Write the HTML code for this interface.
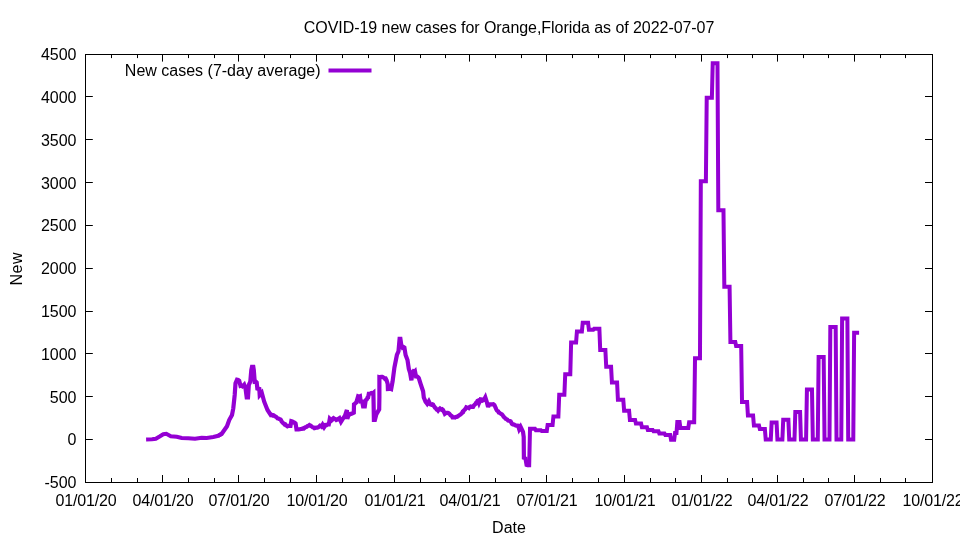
<!DOCTYPE html>
<html lang="en"><head><meta charset="utf-8"><title>COVID-19 new cases for Orange,Florida</title>
<style>html,body{margin:0;padding:0;background:#fff;overflow:hidden}svg{display:block}</style></head>
<body>
<svg width="960" height="540" viewBox="0 0 960 540">
<rect width="960" height="540" fill="#fff"/>
<path d="M85.5,54.5h7.3M932.5,54.5h-7.5M85.5,96.5h7.3M932.5,96.5h-7.5M85.5,139.5h7.3M932.5,139.5h-7.5M85.5,182.5h7.3M932.5,182.5h-7.5M85.5,225.5h7.3M932.5,225.5h-7.5M85.5,268.5h7.3M932.5,268.5h-7.5M85.5,311.5h7.3M932.5,311.5h-7.5M85.5,353.5h7.3M932.5,353.5h-7.5M85.5,396.5h7.3M932.5,396.5h-7.5M85.5,439.5h7.3M932.5,439.5h-7.5M85.5,482.5h7.3M932.5,482.5h-7.5M85.5,482.5v-7.5M85.5,54.5v7.1M111.5,482.5v-4.5M111.5,54.5v3.6M137.5,482.5v-4.5M137.5,54.5v3.6M162.5,482.5v-7.5M162.5,54.5v7.1M188.5,482.5v-4.5M188.5,54.5v3.6M214.5,482.5v-4.5M214.5,54.5v3.6M238.5,482.5v-7.5M238.5,54.5v7.1M264.5,482.5v-4.5M264.5,54.5v3.6M290.5,482.5v-4.5M290.5,54.5v3.6M316.5,482.5v-7.5M316.5,54.5v7.1M342.5,482.5v-4.5M342.5,54.5v3.6M368.5,482.5v-4.5M368.5,54.5v3.6M394.5,482.5v-7.5M394.5,54.5v7.1M420.5,482.5v-4.5M420.5,54.5v3.6M445.5,482.5v-4.5M445.5,54.5v3.6M469.5,482.5v-7.5M469.5,54.5v7.1M495.5,482.5v-4.5M495.5,54.5v3.6M521.5,482.5v-4.5M521.5,54.5v3.6M546.5,482.5v-7.5M546.5,54.5v7.1M572.5,482.5v-4.5M572.5,54.5v3.6M598.5,482.5v-4.5M598.5,54.5v3.6M624.5,482.5v-7.5M624.5,54.5v7.1M650.5,482.5v-4.5M650.5,54.5v3.6M675.5,482.5v-4.5M675.5,54.5v3.6M701.5,482.5v-7.5M701.5,54.5v7.1M727.5,482.5v-4.5M727.5,54.5v3.6M752.5,482.5v-4.5M752.5,54.5v3.6M777.5,482.5v-7.5M777.5,54.5v7.1M803.5,482.5v-4.5M803.5,54.5v3.6M828.5,482.5v-4.5M828.5,54.5v3.6M854.5,482.5v-7.5M854.5,54.5v7.1M880.5,482.5v-4.5M880.5,54.5v3.6M905.5,482.5v-4.5M905.5,54.5v3.6M932.5,482.5v-7.5M932.5,54.5v7.1" stroke="#000" stroke-width="1" fill="none"/>
<rect x="85.5" y="54.5" width="847.0" height="428.0" fill="none" stroke="#000" stroke-width="1"/>
<g font-family="'Liberation Sans', Arial, sans-serif" font-size="16" fill="#000">
<text x="76.5" y="60.1" text-anchor="end">4500</text>
<text x="76.5" y="102.9" text-anchor="end">4000</text>
<text x="76.5" y="145.7" text-anchor="end">3500</text>
<text x="76.5" y="188.5" text-anchor="end">3000</text>
<text x="76.5" y="231.3" text-anchor="end">2500</text>
<text x="76.5" y="274.1" text-anchor="end">2000</text>
<text x="76.5" y="316.9" text-anchor="end">1500</text>
<text x="76.5" y="359.7" text-anchor="end">1000</text>
<text x="76.5" y="402.5" text-anchor="end">500</text>
<text x="76.5" y="445.3" text-anchor="end">0</text>
<text x="76.5" y="488.1" text-anchor="end">-500</text>
<text x="86.1" y="506" text-anchor="middle" textLength="61" lengthAdjust="spacing">01/01/20</text>
<text x="163.1" y="506" text-anchor="middle" textLength="61" lengthAdjust="spacing">04/01/20</text>
<text x="239.1" y="506" text-anchor="middle" textLength="61" lengthAdjust="spacing">07/01/20</text>
<text x="317.1" y="506" text-anchor="middle" textLength="61" lengthAdjust="spacing">10/01/20</text>
<text x="395.1" y="506" text-anchor="middle" textLength="61" lengthAdjust="spacing">01/01/21</text>
<text x="470.1" y="506" text-anchor="middle" textLength="61" lengthAdjust="spacing">04/01/21</text>
<text x="547.1" y="506" text-anchor="middle" textLength="61" lengthAdjust="spacing">07/01/21</text>
<text x="625.1" y="506" text-anchor="middle" textLength="61" lengthAdjust="spacing">10/01/21</text>
<text x="702.1" y="506" text-anchor="middle" textLength="61" lengthAdjust="spacing">01/01/22</text>
<text x="778.1" y="506" text-anchor="middle" textLength="61" lengthAdjust="spacing">04/01/22</text>
<text x="855.1" y="506" text-anchor="middle" textLength="61" lengthAdjust="spacing">07/01/22</text>
<text x="933.1" y="506" text-anchor="middle" textLength="61" lengthAdjust="spacing">10/01/22</text>
<text x="509.1" y="33" text-anchor="middle" textLength="410.5" lengthAdjust="spacing">COVID-19 new cases for Orange,Florida as of 2022-07-07</text>
<text x="509" y="533" text-anchor="middle">Date</text>
<text transform="translate(21.5,269) rotate(-90)" text-anchor="middle" textLength="33" lengthAdjust="spacing">New</text>
<text x="320.5" y="75.8" text-anchor="end">New cases (7-day average)</text>
</g>
<path d="M328.5,70.5H371.5" stroke="#9400d3" stroke-width="4" fill="none"/>
<path d="M146.1,439.4 L152.0,439.2 L155.8,438.8 L160.0,436.3 L163.3,434.2 L166.3,433.8 L170.8,436.3 L176.7,436.7 L181.7,438.0 L188.3,438.3 L195.0,438.8 L201.7,437.8 L206.7,438.0 L213.3,437.0 L218.3,435.8 L221.7,433.8" stroke="#9400d3" stroke-width="4.0" fill="none" stroke-linejoin="miter" stroke-miterlimit="2.8" stroke-linecap="butt"/>
<path d="M218.3,435.8 L221.7,433.8 L224.2,430.3 L227.0,426.3 L229.2,420.0 L232.0,415.0 L233.3,408.3 L234.7,395.0 L235.5,383.3 L237.0,379.7 L238.1,380.0 L239.2,380.8 L240.5,385.8 L241.5,385.5 L242.5,386.3 L243.3,385.7 L244.2,384.7 L245.5,388.3 L246.7,397.5 L248.0,397.5 L248.8,385.0 L250.3,381.7 L251.3,370.0 L252.0,366.8 L253.3,366.8 L253.8,370.0 L254.7,381.7 L255.7,381.5 L256.7,382.5 L257.5,390.0 L259.2,387.5 L259.7,395.0 L260.4,394.2 L261.0,393.2 L261.7,392.5 L264.2,401.7 L267.5,410.0 L270.8,415.0 L271.6,414.8 L272.5,415.4 L273.4,415.2 L274.2,415.8 L275.0,416.4 L275.9,416.7 L276.7,417.4 L277.5,418.3 L278.3,418.5 L279.2,419.1 L280.0,419.2 L280.6,419.6 L281.1,420.4 L281.6,421.3 L282.2,422.2 L282.8,422.7 L283.3,423.3 L284.0,423.7 L284.7,424.6 L285.4,424.5 L286.1,425.5 L286.8,425.7 L287.5,426.3 L288.5,425.9 L289.5,425.7 L290.5,425.8 L291.3,421.2 L292.3,421.5 L293.3,422.0 L294.1,422.7 L294.8,422.8 L295.6,423.5 L296.5,429.4 L297.6,429.4 L298.8,429.4 L299.8,429.3 L300.8,429.0 L301.8,428.9 L302.8,428.4 L303.8,428.5 L304.6,427.8 L305.4,427.3 L306.2,427.1 L307.0,426.5 L307.8,425.9 L308.6,425.6 L309.4,425.0 L310.2,425.5 L311.1,425.9 L311.9,426.7 L312.7,427.2 L313.6,427.4 L314.4,428.1 L315.3,427.9 L316.2,427.7 L317.2,427.7 L318.1,427.3 L319.1,426.6 L320.0,425.6 L320.8,425.9 L321.5,426.5 L322.6,424.6 L324.1,427.2 L325.6,425.0 L326.7,425.1 L327.7,424.4 L328.8,424.4 L329.8,418.8 L330.6,419.6 L331.3,420.6 L332.0,420.0 L332.8,418.7 L333.5,418.1 L334.4,418.7 L335.4,419.0 L336.3,420.0 L337.1,419.6 L337.9,419.2 L338.6,418.6 L339.4,418.1 L341.0,421.8 L342.5,419.4 L345.0,415.6 L346.9,410.0 L347.3,418.8 L348.8,414.4 L349.6,414.5 L350.5,413.8 L351.3,413.8 L352.1,413.6 L353.0,413.2 L353.8,412.8 L354.0,404.4 L354.8,403.9 L355.5,403.1 L356.3,402.5 L358.1,396.3 L359.1,396.7 L360.0,396.3 L360.6,401.3 L361.2,401.2 L361.9,400.0 L363.1,406.3 L364.8,406.3 L365.6,400.6 L366.2,399.8 L366.9,399.2 L367.5,397.7 L368.1,397.5 L368.8,393.8 L369.6,393.8 L370.5,393.5 L371.3,393.1 L372.4,393.6 L373.4,392.8 L373.9,419.8 L374.9,419.8 L376.3,414.4 L379.2,409.4 L379.4,397.0 L379.4,377.2 L380.4,377.5 L381.3,376.8 L382.3,376.8 L383.2,377.3 L384.2,377.8 L385.0,378.9 L385.8,378.7 L386.6,380.2 L387.7,384.0 L387.9,389.0 L389.0,388.9 L390.1,388.5 L391.2,389.0 L392.6,381.5 L394.4,367.5 L396.9,355.0 L398.5,351.3 L399.6,338.9 L400.4,338.9 L401.3,345.0 L402.5,347.5 L403.4,346.9 L404.4,347.5 L405.6,355.0 L407.5,360.0 L408.8,368.8 L410.0,372.5 L411.4,380.3 L412.5,372.5 L413.3,371.4 L414.2,372.1 L415.0,371.3 L416.0,376.3 L416.9,376.3 L417.9,377.1 L418.8,378.1 L420.6,383.8 L423.1,391.3 L423.8,397.5 L425.6,401.9 L426.4,402.7 L427.2,403.8 L428.8,401.3 L430.3,404.4 L431.4,404.8 L432.5,404.4 L433.1,404.7 L433.7,405.8 L434.4,406.7 L435.0,407.7 L435.6,408.1 L436.2,409.0 L436.9,409.7 L437.5,409.8 L438.1,410.6 L438.7,409.8 L439.4,409.1 L440.0,408.5 L440.8,409.2 L441.6,409.7 L442.3,409.3 L443.1,410.0 L444.8,413.8 L445.9,413.0 L446.9,412.8 L447.7,412.9 L448.6,413.2 L449.4,413.8 L450.0,414.5 L450.6,415.3 L451.3,415.7 L451.9,416.2 L452.5,417.3 L453.8,417.3 L455.0,417.5 L455.8,417.0 L456.6,416.8 L457.3,416.7 L458.1,416.0 L458.9,415.6 L459.7,414.9 L460.5,414.5 L461.3,413.8 L461.9,413.2 L462.6,411.8 L463.2,411.8 L463.8,410.6 L464.4,410.0 L465.1,409.3 L465.7,408.4 L466.3,407.3 L467.1,407.5 L468.0,407.7 L468.8,408.1 L469.7,406.9 L470.6,406.5 L471.9,406.8 L473.1,406.9 L473.7,405.7 L474.4,404.9 L475.0,404.3 L475.6,403.8 L476.2,402.6 L476.9,402.0 L477.5,400.9 L478.1,400.6 L479.0,403.1 L480.6,399.3 L481.6,399.4 L482.5,400.6 L483.8,400.0 L485.3,397.3 L486.6,401.3 L488.1,406.9 L488.7,405.7 L489.4,404.8 L490.0,404.4 L491.2,404.3 L492.5,404.4 L493.4,404.2 L494.4,405.0 L496.3,409.4 L496.9,410.5 L497.6,411.1 L498.2,411.4 L498.8,412.5 L499.5,412.8 L500.3,413.4 L501.0,413.9 L501.8,414.2 L502.5,415.0 L503.1,416.0 L503.7,416.9 L504.4,417.3 L505.0,418.0 L505.6,418.8 L506.4,419.1 L507.3,419.7 L508.1,420.6 L508.9,420.7 L509.8,420.9 L510.6,421.3 L511.9,423.8 L512.7,424.4 L513.5,424.3 L514.2,424.6 L515.0,425.3 L516.0,425.7 L517.1,425.5 L518.1,425.6 L519.2,429.2 L520.6,426.8 L523.0,431.8 L523.7,437.0 L523.9,457.8 L525.5,458.3 L526.6,464.8 L527.6,465.1 L528.6,465.2" stroke="#9400d3" stroke-width="4.2" fill="none" stroke-linejoin="miter" stroke-miterlimit="2.8" stroke-linecap="butt"/>
<path d="M526.6,464.8 L528.6,465.2 L529.18,465.2 L530.02,428.8 L534.98,428.8 L535.82,430.2 L540.88,430.2 L541.72,431.1 L546.78,431.1 L547.62,425.0 L552.58,425.0 L553.42,416.6 L558.38,416.6 L559.22,394.7 L564.38,394.7 L565.22,374.2 L570.28,374.2 L571.12,342.4 L576.08,342.4 L576.92,331.4 L581.88,331.4 L582.72,322.7 L588.08,322.7 L588.92,329.8 L593.28,329.8 L594.12,328.8 L599.38,328.8 L600.22,350.1 L605.38,350.1 L606.22,366.8 L611.08,366.8 L611.92,382.5 L617.08,382.5 L617.92,399.8 L623.28,399.8 L624.12,410.7 L629.08,410.7 L629.92,419.9 L635.08,419.9 L635.92,423.6 L641.08,423.6 L641.92,427.3 L646.98,427.3 L647.82,430.0 L652.68,430.0 L653.52,431.3 L658.48,431.3 L659.32,433.5 L664.48,433.5 L665.32,435.0 L670.18,435.0 L671.02,439.7 L674.18,439.7 L675.02,433.1 L676.48,433.1 L677.32,421.9 L679.58,421.9 L680.42,428.1 L688.28,428.1 L689.12,422.3 L694.18,422.3 L695.02,358.3 L699.98,358.3 L700.82,181.2 L705.88,181.2 L706.72,97.8 L711.88,97.8 L712.72,63.2 L717.48,63.2 L718.32,210.2 L723.48,210.2 L724.32,286.8 L729.58,286.8 L730.42,342.0 L735.28,342.0 L736.12,346.0 L741.18,346.0 L742.02,401.9 L747.08,401.9 L747.92,415.6 L753.08,415.6 L753.92,425.6 L758.98,425.6 L759.82,429.0 L764.88,429.0 L765.72,439.6 L770.78,439.6 L771.62,422.5 L776.58,422.5 L777.42,439.6 L782.38,439.6 L783.22,419.7 L788.38,419.7 L789.22,439.6 L794.48,439.6 L795.32,411.9 L800.08,411.9 L800.92,439.6 L806.08,439.6 L806.92,389.4 L811.98,389.4 L812.82,439.6 L817.78,439.6 L818.62,356.9 L823.68,356.9 L824.52,439.6 L829.48,439.6 L830.32,326.9 L835.68,326.9 L836.52,439.6 L841.28,439.6 L842.12,318.6 L847.38,318.6 L848.22,439.6 L853.28,439.6 L854.12,332.8 L859.1,332.8" stroke="#9400d3" stroke-width="4" fill="none" stroke-linejoin="miter" stroke-miterlimit="3.8" stroke-linecap="butt"/>
</svg>
</body></html>
